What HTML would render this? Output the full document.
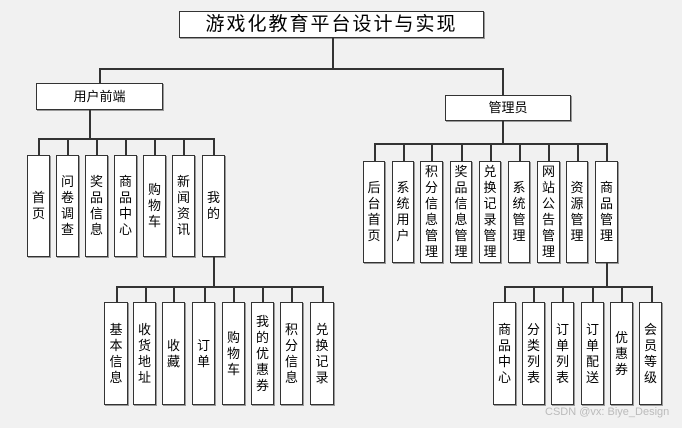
<!DOCTYPE html>
<html><head><meta charset="utf-8"><style>
body{margin:0;width:682px;height:428px;background:#f1f1f1;position:relative;overflow:hidden;font-family:"Liberation Sans","Noto Sans CJK SC",sans-serif;}
.b{position:absolute;background:#fff;border:1.5px solid #333;box-sizing:border-box;display:flex;align-items:center;justify-content:center;text-align:center;color:#000;font-size:13px;line-height:16px;box-shadow:1px 1px 0 #999;}
.l{position:absolute;background:#333;}
.h{height:1.5px}.v{width:1.5px}
</style></head><body>
<div class="b" style="left:179px;top:11px;width:305px;height:27px;font-size:19px;letter-spacing:2px;">游戏化教育平台设计与实现</div>
<div class="l v" style="left:332px;top:38px;height:31px"></div>
<div class="l h" style="left:99px;top:68px;width:404px"></div>
<div class="l v" style="left:99px;top:68px;height:15px"></div>
<div class="l v" style="left:502px;top:68px;height:27px"></div>

<div class="b" style="left:36px;top:83px;width:127px;height:27px;">用户前端</div>
<div class="l v" style="left:89px;top:110px;height:28px"></div>
<div class="l h" style="left:38px;top:138px;width:176px"></div>

<div class="b" style="left:445px;top:95px;width:126px;height:26px;">管理员</div>
<div class="l v" style="left:502px;top:121px;height:22px"></div>
<div class="l h" style="left:374px;top:143px;width:233px"></div>

<!-- left children -->
<div class="l v" style="left:38px;top:138px;height:17px"></div><div class="b" style="left:27px;top:155px;width:23px;height:102px">首<br>页</div>
<div class="l v" style="left:67px;top:138px;height:17px"></div><div class="b" style="left:56px;top:155px;width:23px;height:102px">问<br>卷<br>调<br>查</div>
<div class="l v" style="left:96px;top:138px;height:17px"></div><div class="b" style="left:85px;top:155px;width:23px;height:102px">奖<br>品<br>信<br>息</div>
<div class="l v" style="left:125px;top:138px;height:17px"></div><div class="b" style="left:114px;top:155px;width:23px;height:102px">商<br>品<br>中<br>心</div>
<div class="l v" style="left:154px;top:138px;height:17px"></div><div class="b" style="left:143px;top:155px;width:23px;height:102px">购<br>物<br>车</div>
<div class="l v" style="left:183px;top:138px;height:17px"></div><div class="b" style="left:172px;top:155px;width:23px;height:102px">新<br>闻<br>资<br>讯</div>
<div class="l v" style="left:213px;top:138px;height:17px"></div><div class="b" style="left:202px;top:155px;width:23px;height:102px">我<br>的</div>
<div class="l v" style="left:213px;top:257px;height:29px"></div>
<div class="l h" style="left:116px;top:286px;width:207px"></div>

<!-- right children -->
<div class="l v" style="left:374px;top:143px;height:18px"></div><div class="b" style="left:363px;top:161px;width:22px;height:102px">后<br>台<br>首<br>页</div>
<div class="l v" style="left:403px;top:143px;height:18px"></div><div class="b" style="left:392px;top:161px;width:22px;height:102px">系<br>统<br>用<br>户</div>
<div class="l v" style="left:431px;top:143px;height:18px"></div><div class="b" style="left:420px;top:161px;width:23px;height:102px">积<br>分<br>信<br>息<br>管<br>理</div>
<div class="l v" style="left:461px;top:143px;height:18px"></div><div class="b" style="left:450px;top:161px;width:22px;height:102px">奖<br>品<br>信<br>息<br>管<br>理</div>
<div class="l v" style="left:490px;top:143px;height:18px"></div><div class="b" style="left:479px;top:161px;width:22px;height:102px">兑<br>换<br>记<br>录<br>管<br>理</div>
<div class="l v" style="left:519px;top:143px;height:18px"></div><div class="b" style="left:508px;top:161px;width:22px;height:102px">系<br>统<br>管<br>理</div>
<div class="l v" style="left:548px;top:143px;height:18px"></div><div class="b" style="left:537px;top:161px;width:23px;height:102px">网<br>站<br>公<br>告<br>管<br>理</div>
<div class="l v" style="left:577px;top:143px;height:18px"></div><div class="b" style="left:566px;top:161px;width:22px;height:102px">资<br>源<br>管<br>理</div>
<div class="l v" style="left:606px;top:143px;height:18px"></div><div class="b" style="left:595px;top:161px;width:23px;height:102px">商<br>品<br>管<br>理</div>
<div class="l v" style="left:606px;top:263px;height:23px"></div>
<div class="l h" style="left:504px;top:286px;width:148px"></div>

<!-- bottom left -->
<div class="l v" style="left:116px;top:286px;height:16px"></div><div class="b" style="left:104px;top:302px;width:24px;height:103px">基<br>本<br>信<br>息</div>
<div class="l v" style="left:145px;top:286px;height:16px"></div><div class="b" style="left:133px;top:302px;width:23px;height:103px">收<br>货<br>地<br>址</div>
<div class="l v" style="left:173px;top:286px;height:16px"></div><div class="b" style="left:162px;top:302px;width:23px;height:103px">收<br>藏</div>
<div class="l v" style="left:204px;top:286px;height:16px"></div><div class="b" style="left:192px;top:302px;width:23px;height:103px">订<br>单</div>
<div class="l v" style="left:233px;top:286px;height:16px"></div><div class="b" style="left:222px;top:302px;width:23px;height:103px">购<br>物<br>车</div>
<div class="l v" style="left:262px;top:286px;height:16px"></div><div class="b" style="left:251px;top:302px;width:23px;height:103px">我<br>的<br>优<br>惠<br>券</div>
<div class="l v" style="left:291px;top:286px;height:16px"></div><div class="b" style="left:280px;top:302px;width:23px;height:103px">积<br>分<br>信<br>息</div>
<div class="l v" style="left:322px;top:286px;height:16px"></div><div class="b" style="left:310px;top:302px;width:24px;height:103px">兑<br>换<br>记<br>录</div>

<!-- bottom right -->
<div class="l v" style="left:504px;top:286px;height:16px"></div><div class="b" style="left:493px;top:302px;width:23px;height:103px">商<br>品<br>中<br>心</div>
<div class="l v" style="left:533px;top:286px;height:16px"></div><div class="b" style="left:522px;top:302px;width:23px;height:103px">分<br>类<br>列<br>表</div>
<div class="l v" style="left:562px;top:286px;height:16px"></div><div class="b" style="left:551px;top:302px;width:23px;height:103px">订<br>单<br>列<br>表</div>
<div class="l v" style="left:592px;top:286px;height:16px"></div><div class="b" style="left:581px;top:302px;width:23px;height:103px">订<br>单<br>配<br>送</div>
<div class="l v" style="left:621px;top:286px;height:16px"></div><div class="b" style="left:610px;top:302px;width:23px;height:103px">优<br>惠<br>券</div>
<div class="l v" style="left:651px;top:286px;height:16px"></div><div class="b" style="left:639px;top:302px;width:23px;height:103px">会<br>员<br>等<br>级</div>

<div style="position:absolute;left:545px;top:406px;font-size:11px;color:#bbb;white-space:nowrap;">CSDN @vx: Biye_Design</div>
</body></html>
